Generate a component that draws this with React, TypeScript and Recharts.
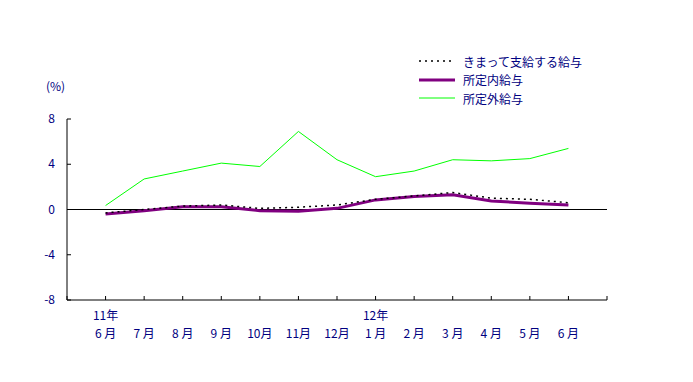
import React from 'react';
import { LineChart, Line, XAxis, YAxis, ReferenceLine } from 'recharts';

const months = ['6 月', '7 月', '8 月', '9 月', '10月', '11月', '12月', '1 月', '2 月', '3 月', '4 月', '5 月', '6 月'];
const years = ['11年', '', '', '', '', '', '', '12年', '', '', '', '', ''];
const regular = [-0.3, 0.0, 0.3, 0.4, 0.1, 0.2, 0.4, 0.9, 1.2, 1.5, 1.0, 0.9, 0.6];
const scheduled = [-0.4, -0.1, 0.25, 0.25, -0.1, -0.15, 0.1, 0.85, 1.15, 1.3, 0.75, 0.55, 0.4];
const overtime = [0.35, 2.7, 3.4, 4.1, 3.8, 6.9, 4.4, 2.9, 3.4, 4.4, 4.3, 4.5, 5.4];
const yTicks = [-8, -4, 0, 4, 8];
const xTicks = [0, 1, 2, 3, 4, 5, 6, 7, 8, 9, 10, 11, 12, 13, 14];

const data = months.map((m, i) => ({
  x: i + 1,
  regular: regular[i],
  scheduled: scheduled[i],
  overtime: overtime[i],
}));

const FONT = '"Noto Sans CJK JP", "DejaVu Sans", sans-serif';
const NAVY = '#000080';
const FS = 12;

const XTick = (props: any) => {
  const { x, y, payload } = props;
  const idx = payload.value - 1;
  const m = months[idx];
  const yr = years[idx];
  return (
    <g>
      <line x1={x} y1={y} x2={x} y2={y - 4} stroke="#000" strokeWidth={1} />
      {yr ? (
        <text x={x} y={y + 20} textAnchor="middle" fill={NAVY} fontSize={FS} fontFamily={FONT}>{yr}</text>
      ) : null}
      {m ? (
        <text x={x} y={y + 38} textAnchor="middle" fill={NAVY} fontSize={FS} fontFamily={FONT}>{m}</text>
      ) : null}
    </g>
  );
};

const YTick = (props: any) => {
  const { x, y, payload } = props;
  return (
    <g>
      <line x1={x} y1={y} x2={x + 4} y2={y} stroke="#000" strokeWidth={1} />
      <text x={x - 12} y={y + 4} textAnchor="end" fill={NAVY} fontSize={FS} fontFamily={FONT}>{payload.value}</text>
    </g>
  );
};

const legendItems = [
  { label: 'きまって支給する給与', color: '#000000', width: 1.5, dash: '2 4' },
  { label: '所定内給与', color: '#800080', width: 3, dash: undefined },
  { label: '所定外給与', color: '#00ff00', width: 1, dash: undefined },
];

const LegendContent = () => (
  <div style={{ fontFamily: FONT, fontSize: FS, color: NAVY }}>
    {legendItems.map((it, i) => (
      <div key={i} style={{ display: 'flex', alignItems: 'center', height: 18.5 }}>
        <svg width={40} height={8} style={{ marginRight: 4 }}>
          <line x1={0} y1={4} x2={36} y2={4} stroke={it.color} strokeWidth={it.width} strokeDasharray={it.dash} />
        </svg>
        <span>{it.label}</span>
      </div>
    ))}
  </div>
);

export default function App() {
  return (
    <div style={{ position: 'absolute', left: 0, top: 0, width: 693, height: 382, background: '#fff' }}>
      <LineChart width={693} height={382} data={data} margin={{ top: 119, right: 86, bottom: 42, left: 0 }}>
        <XAxis
          dataKey="x"
          type="number"
          domain={[0, 14]}
          ticks={xTicks}
          interval={0}
          tickSize={0}
          tickMargin={0}
          tick={<XTick />}
          axisLine={{ stroke: '#000' }}
          tickLine={false}
          height={40}
          allowDataOverflow
        />
        <YAxis
          type="number"
          domain={[-8, 8]}
          ticks={yTicks}
          interval={0}
          tickSize={0}
          tickMargin={0}
          tick={<YTick />}
          axisLine={{ stroke: '#000' }}
          tickLine={false}
          width={67}
        />
        <ReferenceLine y={0} stroke="#000" strokeWidth={1} />
        <Line dataKey="overtime" stroke="#00ff00" strokeWidth={1} dot={false} isAnimationActive={false} />
        <Line dataKey="scheduled" stroke="#800080" strokeWidth={3} dot={false} isAnimationActive={false} />
        <Line dataKey="regular" stroke="#000000" strokeWidth={1.5} strokeDasharray="2 4" dot={false} isAnimationActive={false} />
      </LineChart>
      <div style={{ position: 'absolute', left: 46, top: 77, fontFamily: FONT, fontSize: FS, color: NAVY }}>(%)</div>
      <div style={{ position: 'absolute', left: 419, top: 52 }}>
        <LegendContent />
      </div>
    </div>
  );
}
